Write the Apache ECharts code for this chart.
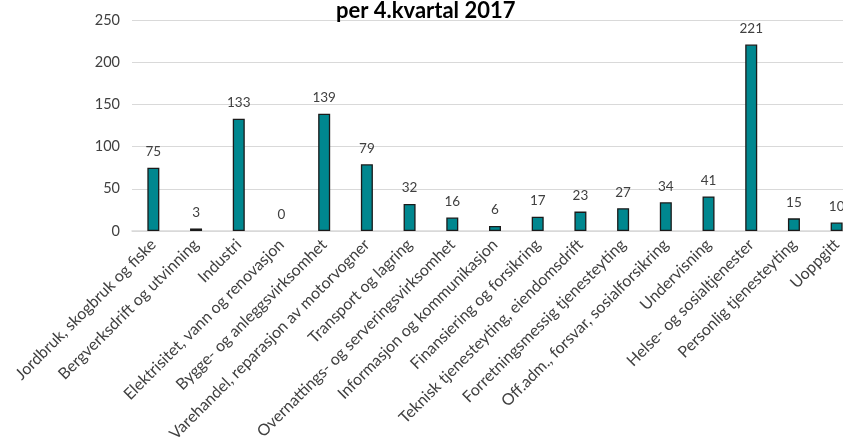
<!DOCTYPE html>
<html>
<head>
<meta charset="utf-8">
<script src="https://cdn.jsdelivr.net/npm/echarts@6/dist/echarts.min.js"></script>
<style>
html, body { margin: 0; padding: 0; background: #fff; }
#chart { width: 843px; height: 443px; }
</style>
</head>
<body>
<div id="chart"></div>
<script>
// kategorier og verdier
var categories = [
	'Jordbruk, skogbruk og fiske',
	'Bergverksdrift og utvinning',
	'Industri',
	'Elektrisitet, vann og renovasjon',
	'Bygge- og anleggsvirksomhet',
	'Varehandel, reparasjon av motorvogner',
	'Transport og lagring',
	'Overnattings- og serveringsvirksomhet',
	'Informasjon og kommunikasjon',
	'Finansiering og forsikring',
	'Teknisk tjenesteyting, eiendomsdrift',
	'Forretningsmessig tjenesteyting',
	'Off.adm., forsvar, sosialforsikring',
	'Undervisning',
	'Helse- og sosialtjenester',
	'Personlig tjenesteyting',
	'Uoppgitt'
];
var values = [75, 3, 133, 0, 139, 79, 32, 16, 6, 17, 23, 27, 34, 41, 221, 15, 10];
var titleText = 'per 4.kvartal 2017';

var font = 'Lato, "Noto Sans", sans-serif';

// null-verdier tegnes uten kantlinje
var barData = [];
for (var i = 0; i < values.length; i++) {
	if (values[i] == 0) {
		barData.push({ value: values[i], itemStyle: { borderWidth: 0 } });
	} else {
		barData.push(values[i]);
	}
}

var option = {
	animation: false,
	title: {
		text: titleText,
		left: 331,
		top: -5,
		padding: 5,
		textStyle: {
			fontFamily: font,
			fontSize: 22,
			fontWeight: 'bold',
			color: '#000'
		}
	},
	grid: {
		left: 132,
		width: 726, // plottet går forbi høyre kant
		top: 20,
		bottom: 212,
		outerBoundsMode: 'none'
	},
	xAxis: {
		type: 'category',
		data: categories,
		axisLine: { lineStyle: { color: '#d9d9d9', width: 1.5 } },
		axisTick: { show: false },
		axisLabel: {
			rotate: 45,
			interval: 0,
			margin: 11,
			color: '#404040',
			fontFamily: font,
			fontSize: 16
		}
	},
	yAxis: {
		type: 'value',
		min: 0,
		max: 250,
		interval: 50,
		axisLine: { show: false },
		axisTick: { show: false },
		splitLine: { lineStyle: { color: '#d9d9d9', width: 1.2 } },
		axisLabel: {
			margin: 12,
			color: '#404040',
			fontFamily: font,
			fontSize: 14.5
		}
	},
	series: [{
		type: 'bar',
		data: barData,
		barWidth: 12,
		itemStyle: {
			color: '#00878f',
			borderColor: '#1a1a1a',
			borderWidth: 1.3
		},
		label: {
			show: true,
			position: 'top',
			distance: 9,
			color: '#404040',
			fontFamily: font,
			fontSize: 13.5
		}
	}]
};

var myChart = echarts.init(document.getElementById('chart'));
myChart.setOption(option);
</script>
</body>
</html>
